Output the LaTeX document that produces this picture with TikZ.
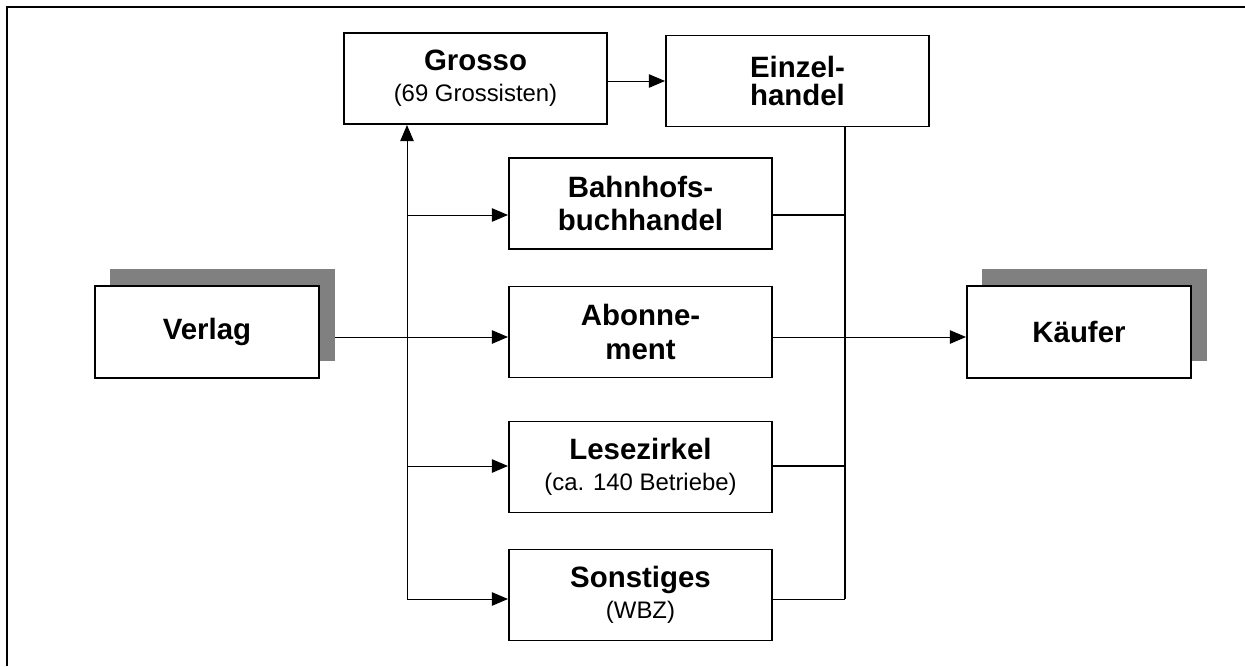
\documentclass[tikz,border=0pt]{standalone}
\usepackage{fontspec}
\setmainfont{Liberation Sans}
\usetikzlibrary{arrows.meta,shadows,backgrounds}

\begin{document}
\begin{tikzpicture}[x=.0147cm,y=-.0147cm,line width=.8pt,
  box/.style={draw,fill=white,align=center,inner sep=0pt,minimum width=3.866cm,minimum height=1.338cm,font=\fontsize{12.3}{14}\selectfont\bfseries},
  endbox/.style={box,minimum width=3.293cm,minimum height=1.352cm,general shadow={fill=black!50,draw=none,shadow xshift=.228cm,shadow yshift=.25cm}},
  pfeil/.style={-{Triangle[length=6.7pt,width=5.6pt]}}]
\useasboundingbox (0,0) rectangle (1245,666);
\draw[line width=1pt] (7,666)--(7,7)--(1245,7);
\node[box] (grosso) at (475.5,78.5) {Grosso\\[-1pt]{\mdseries\fontsize{10}{12}\selectfont(69 Grossisten)}};
\node[box] (einzel) at (797.5,81) {Einzel-\\[-2pt]handel};
\node[box] (bahnhof) at (640.5,203.5) {Bahnhofs-\\buchhandel};
\node[box] (abo) at (640.5,332) {Abonne-\\ment};
\node[box] (lese) at (640.5,467) {Lesezirkel\\[-1pt]{\mdseries\fontsize{10}{12}\selectfont(ca. 140 Betriebe)}};
\node[box] (sonst) at (640.5,595) {Sonstiges\\[-1pt]{\mdseries\fontsize{10}{12}\selectfont(WBZ)}};
\node[endbox] (verlag) at (207,332) {Verlag};
\node[endbox] (kaeufer) at (1079,332) {Käufer};
\coordinate (ast) at (407,599);
\coordinate (rand) at (845,599);
\begin{pgfonlayer}{background}
\draw[pfeil] (ast)--(ast|-grosso.south);
\draw[pfeil] (grosso.east|-0,81)--(einzel.west|-0,81);
\draw[pfeil] (ast|-0,215)--(bahnhof.west|-0,215);
\draw[pfeil] (verlag.east|-0,337)--(abo.west|-0,337);
\draw[pfeil] (ast|-0,466)--(lese.west|-0,466);
\draw[pfeil] (ast)--(sonst.west|-ast);
\draw[line width=.5pt] (rand|-einzel.south)--(rand);
\draw[line width=.5pt] (bahnhof.east|-0,215)--(rand|-0,215);
\draw[line width=.5pt] (lese.east|-0,466)--(rand|-0,466);
\draw (sonst.east|-rand)--(rand);
\draw[pfeil] (abo.east|-0,337)--(kaeufer.west|-0,337);
\end{pgfonlayer}
\end{tikzpicture}
\end{document}
